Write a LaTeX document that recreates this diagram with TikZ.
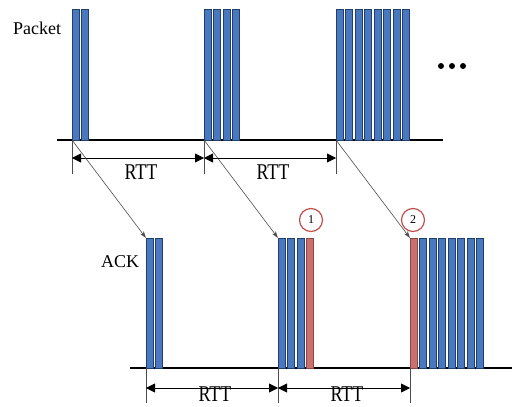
\documentclass[tikz,border=0pt]{standalone}
\usepackage{fontspec}
\setmainfont{Liberation Serif}
\usetikzlibrary{arrows.meta}
\definecolor{barblue}{HTML}{4A78BE}
\definecolor{bardark}{HTML}{1F3F6E}
\definecolor{barred}{HTML}{C8716F}
\definecolor{reddark}{HTML}{8E4644}
\definecolor{circred}{HTML}{C0504D}
\tikzset{
  bluebar/.style={fill=barblue,draw=bardark,line width=0.7pt},
  redbar/.style={fill=barred,draw=reddark,line width=0.7pt},
  baseline/.style={line width=1.4pt},
  tickline/.style={line width=0.6pt,draw=black!70},
  rttarrow/.style={line width=0.8pt,{Triangle[length=9pt,width=9pt]}-{Triangle[length=9pt,width=9pt]}},
  diag/.style={line width=0.6pt,draw=black!70,-{Stealth[length=7pt,width=4.5pt]}},
  lbl/.style={font=\fontsize{18}{20}\selectfont,inner sep=0pt},
  rtt/.style={font=\fontsize{18}{20}\selectfont,inner sep=0pt,text depth=0pt},
  marker/.style={circle,draw=circred,line width=1.2pt,minimum size=23pt,inner sep=0pt,font=\fontsize{12}{13}\selectfont}
}
\begin{document}
\begin{tikzpicture}[x=1pt,y=-1pt]
\useasboundingbox (0,0) rectangle (512,407);
% top baseline
\coordinate (tl) at (57,140);
\coordinate (tr) at (443,140);
\draw[baseline] (tl) -- (tr);
% bottom baseline
\coordinate (bl) at (130,368);
\coordinate (br) at (512,368);
\draw[baseline] (bl) -- (br);
% top bars
\foreach \x/\n in {72/2,204/4,336/8}{
  \foreach \i in {1,...,\n}{
    \draw[bluebar] ({\x+(\i-1)*9.5},9) rectangle ({\x+(\i-1)*9.5+7},140);
  }
}
% bottom bars
\foreach \i in {1,2}{\draw[bluebar] ({146+(\i-1)*9.5},238) rectangle ({146+(\i-1)*9.5+7},368);}
\foreach \i in {1,2,3}{\draw[bluebar] ({278+(\i-1)*9.5},238) rectangle ({278+(\i-1)*9.5+7},368);}
\draw[redbar] ({278+3*9.5},238) rectangle ({278+3*9.5+7},368);
\draw[redbar] (410,238) rectangle (417,368);
\foreach \i in {2,...,8}{\draw[bluebar] ({410+(\i-1)*9.5},238) rectangle ({410+(\i-1)*9.5+7},368);}
% tick points
\coordinate (t1) at (72,140);  \coordinate (t1e) at (72,174);
\coordinate (t2) at (204,140); \coordinate (t2e) at (204,174);
\coordinate (t3) at (336,140); \coordinate (t3e) at (336,174);
\coordinate (b1) at (146,368); \coordinate (b1e) at (146,403);
\coordinate (b2) at (278,368); \coordinate (b2e) at (278,403);
\coordinate (b3) at (410,368); \coordinate (b3e) at (410,403);
\foreach \p in {t1,t2,t3,b1,b2,b3}{\draw[tickline] (\p) -- (\p e);}
% RTT arrows
\coordinate (ra1) at (72,158);  \coordinate (ra2) at (204,158); \coordinate (ra3) at (336,158);
\coordinate (rb1) at (146,388); \coordinate (rb2) at (278,388); \coordinate (rb3) at (410,388);
\draw[rttarrow] (ra1) -- (ra2);
\draw[rttarrow] (ra2) -- (ra3);
\draw[rttarrow] (rb1) -- (rb2);
\draw[rttarrow] (rb2) -- (rb3);
\node[rtt] (rtt1) at (141,172) {\scalebox{1}[1.25]{RTT}};
\node[rtt] (rtt2) at (273,172) {\scalebox{1}[1.25]{RTT}};
\node[rtt,anchor=base] (rtt3) at (215,401) {\scalebox{1}[1.25]{RTT}};
\node[rtt,anchor=base] (rtt4) at (347,401) {\scalebox{1}[1.25]{RTT}};
% diagonal ACK arrows
\coordinate (a1) at (146,238);
\coordinate (a2) at (278,238);
\coordinate (a3) at (410,238);
\draw[diag] (t1) -- (a1);
\draw[diag] (t2) -- (a2);
\draw[diag] (t3) -- (a3);
% labels
\node[lbl,anchor=west] (packet) at (13,28) {Packet};
\node[lbl,anchor=west] (ack) at (101,262) {ACK};
% dots
\foreach \x in {441,452,463}{\fill (\x,66) circle (3);}
% markers
\node[marker] (m1) at (311,220) {1};
\node[marker] (m2) at (413,220) {2};
\end{tikzpicture}
\end{document}
